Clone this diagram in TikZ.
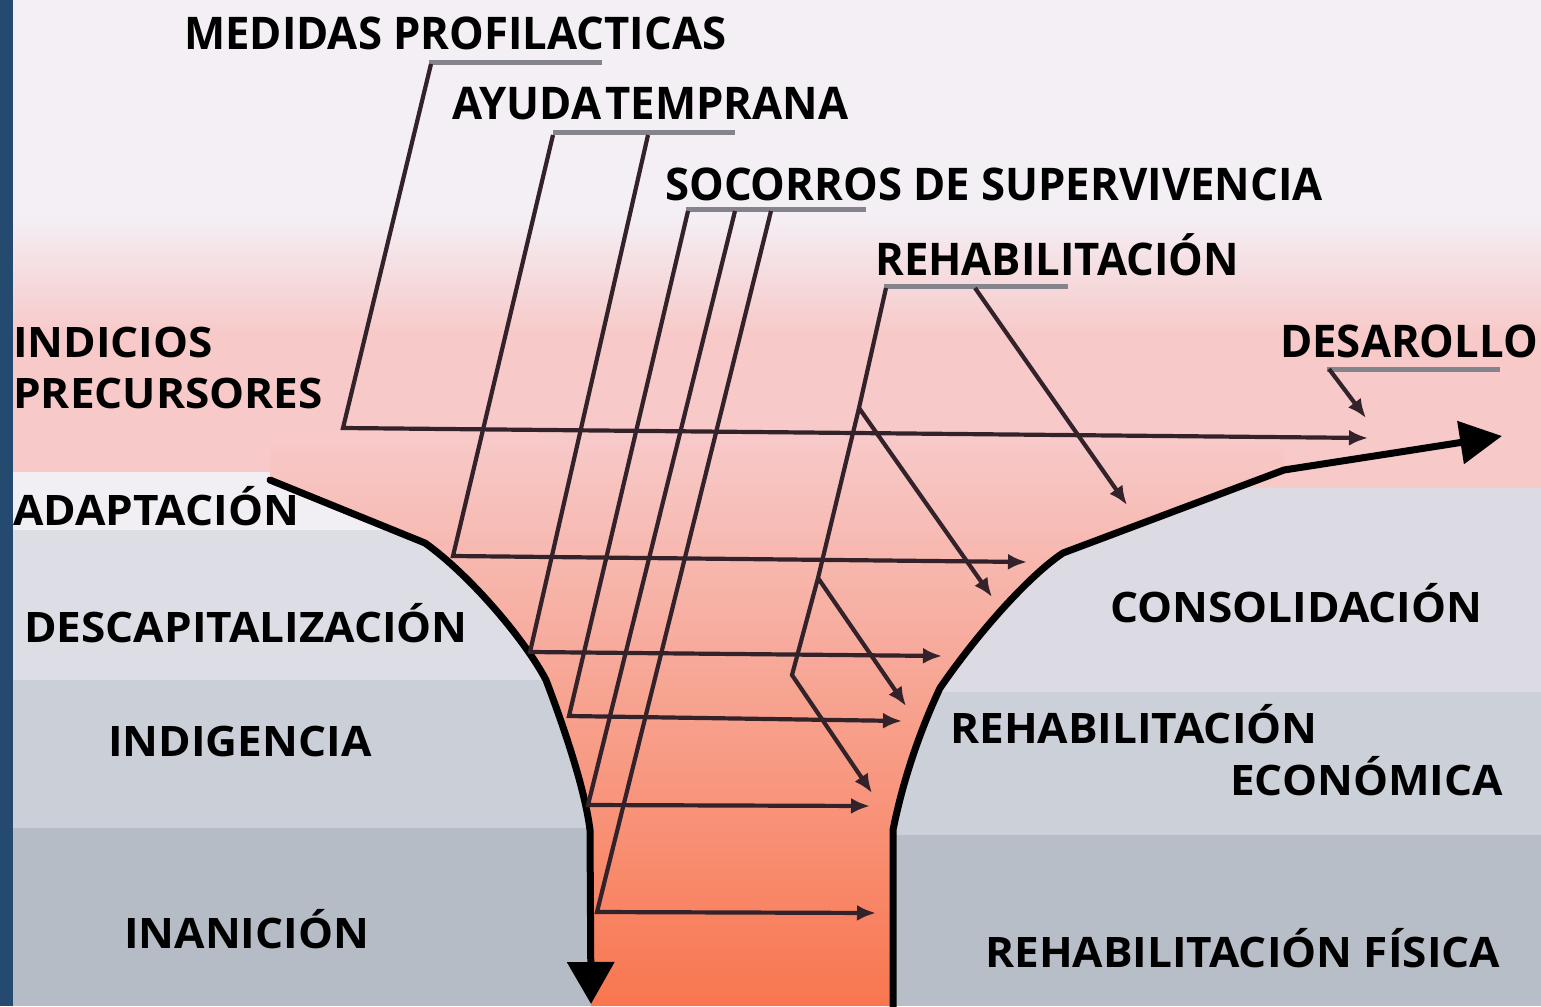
\documentclass[tikz,border=0pt]{standalone}
\usepackage{fontspec}
\newfontfamily\bandfont{Open Sans}[FakeStretch=1.05]
\newfontfamily\topfont{Open Sans}[FakeStretch=0.97]
\usetikzlibrary{arrows.meta}
\definecolor{topbg}{HTML}{F4EFF5}
\definecolor{pinkbg}{HTML}{F7C9C8}
\definecolor{adaptc}{HTML}{F2EFF4}
\definecolor{descc}{HTML}{DCDDE5}
\definecolor{indc}{HTML}{CBD0D8}
\definecolor{inanc}{HTML}{B6BCC6}
\definecolor{consc}{HTML}{DCDBE3}
\definecolor{econc}{HTML}{CCD0D8}
\definecolor{fisc}{HTML}{B8BEC7}
\definecolor{funtop}{HTML}{F7C9C8}
\definecolor{funbot}{HTML}{F8764F}
\definecolor{bluec}{HTML}{254A70}
\definecolor{leadc}{HTML}{33222A}
\definecolor{ulc}{HTML}{85848C}
\tikzset{
  outline/.style={line width=7pt, line join=round, line cap=round, black},
  leader/.style={line width=4.2pt, leadc, line join=miter},
  leadarr/.style={leader, -{Latex[length=19pt,width=16pt]}},
  uline/.style={line width=5pt, ulc},
  toplab/.style={font=\topfont\bfseries\fontsize{45}{45}\selectfont, inner sep=0pt, anchor=base west},
  bandlab/.style={font=\bandfont\bfseries\fontsize{42}{42}\selectfont, inner sep=0pt, anchor=base west}
}
\begin{document}
\begin{tikzpicture}[x=1pt,y=-1pt]
\useasboundingbox (0,0) rectangle (1541,1006);
% background
\fill[topbg] (0,0) rectangle (1541,1006);
\shade[top color=topbg, bottom color=pinkbg] (0,215) rectangle (1541,335);
\fill[pinkbg] (0,334) rectangle (1541,500);
% left bands
\fill[adaptc] (0,472) rectangle (640,530);
\fill[descc] (0,530) rectangle (640,680);
\fill[indc] (0,680) rectangle (640,828);
\fill[inanc] (0,828) rectangle (640,1006);
% right bands
\fill[consc] (850,488) rectangle (1541,692);
\fill[econc] (850,692) rectangle (1541,835);
\fill[fisc] (850,835) rectangle (1541,1006);
% funnel interior
\shade[top color=funtop, bottom color=funbot]
  (270,480) -- (425,543) .. controls (470,575) and (525,640) .. (546,680)
  .. controls (565,730) and (585,790) .. (590,830) -- (591,1006) -- (893,1006) -- (893,830)
  .. controls (905,770) and (925,720) .. (940,688)
  .. controls (980,630) and (1030,575) .. (1063,553) -- (1284,470) -- (1284,440) -- (270,440) -- cycle;
\fill[bluec] (0,0) rectangle (13,1006);

% funnel outline
\coordinate (L0) at (270,480);
\coordinate (L1) at (425,543);
\coordinate (L2) at (546,680);
\coordinate (L3) at (590,830);
\coordinate (Ltip) at (591,1004);
\draw[outline, -{Triangle[length=42pt,width=46pt]}] (L0) -- (L1) .. controls (470,575) and (525,640) .. (L2)
  .. controls (565,730) and (585,790) .. (L3) -- (Ltip);
\coordinate (R0) at (893,1010);
\coordinate (R1) at (893,830);
\coordinate (R2) at (940,688);
\coordinate (R3) at (1063,553);
\coordinate (R4) at (1284,470);
\coordinate (R5) at (1400,452);
\coordinate (Rtip) at (1502,436);
\draw[outline, -{Triangle[length=42pt,width=42pt]}] (R0) -- (R1) .. controls (905,770) and (925,720) .. (R2)
  .. controls (980,630) and (1030,575) .. (R3) -- (R4) -- (R5) -- (Rtip);

% labels
\node[toplab] (med) at (184,50) {MEDIDAS PROFILACTICAS};
\node[toplab] (ayu) at (452,120) {AYUDA\hspace{4pt}TEMPRANA};
\node[toplab] (soc) at (665,200) {SOCORROS DE SUPERVIVENCIA};
\node[toplab] (reh) at (875,275) {REHABILITACIÓN};
\node[toplab] (des) at (1280,357) {DESAROLLO};
\node[bandlab] (ind1) at (13,357) {INDICIOS};
\node[bandlab] (ind2) at (13,408) {PRECURSORES};
\node[bandlab] (ada) at (13,525) {ADAPTACIÓN};
\node[bandlab] (dca) at (24,642) {DESCAPITALIZACIÓN};
\node[bandlab] (idg) at (108,756) {INDIGENCIA};
\node[bandlab] (ina) at (124,948) {INANICIÓN};
\node[bandlab] (con) at (1110,622) {CONSOLIDACIÓN};
\node[bandlab] (re1) at (950,743) {REHABILITACIÓN};
\node[bandlab] (re2) at (1230,795) {ECONÓMICA};
\node[bandlab] (ref) at (985,967) {REHABILITACIÓN FÍSICA};

% underlines
\coordinate (mu0) at (429,63); \coordinate (mu1) at (602,63);
\coordinate (au0) at (553,133); \coordinate (au1) at (735,133);
\coordinate (su0) at (686,209); \coordinate (su1) at (866,209);
\coordinate (ru0) at (884,286); \coordinate (ru1) at (1068,286);
\coordinate (du0) at (1327,369); \coordinate (du1) at (1500,369);
\draw[uline] (mu0) -- (mu1);
\draw[uline] (au0) -- (au1);
\draw[uline] (su0) -- (su1);
\draw[uline] (ru0) -- (ru1);
\draw[uline] (du0) -- (du1);

% leaders
\coordinate (m0) at (431,64);  \coordinate (m1) at (343,428); \coordinate (m2) at (1368,438);
\coordinate (a0) at (553,135); \coordinate (a1) at (453,556); \coordinate (a2) at (1027,562);
\coordinate (b0) at (648,135); \coordinate (b1) at (530,652); \coordinate (b2) at (942,656);
\coordinate (s0) at (688,211); \coordinate (s1) at (569,716); \coordinate (s2) at (902,721);
\coordinate (t0) at (735,211); \coordinate (t1) at (588,805); \coordinate (t2) at (870,806);
\coordinate (u0) at (771,211); \coordinate (u1) at (597,912); \coordinate (u2) at (876,913);
\coordinate (r0) at (886,288); \coordinate (r1) at (859,408); \coordinate (r2) at (818,578);
\coordinate (r3) at (792,675); \coordinate (r4) at (872,793);
\coordinate (rb1) at (992,597); \coordinate (rb2) at (906,706);
\coordinate (q0) at (975,288); \coordinate (q1) at (1127,505);
\coordinate (d0) at (1329,369); \coordinate (d1) at (1366,418);
\draw[leadarr] (m0) -- (m1) -- (m2);
\draw[leadarr] (a0) -- (a1) -- (a2);
\draw[leadarr] (b0) -- (b1) -- (b2);
\draw[leadarr] (s0) -- (s1) -- (s2);
\draw[leadarr] (t0) -- (t1) -- (t2);
\draw[leadarr] (u0) -- (u1) -- (u2);
\draw[leadarr] (r0) -- (r1) -- (r2) -- (r3) -- (r4);
\draw[leadarr] (r1) -- (rb1);
\draw[leadarr] (r2) -- (rb2);
\draw[leadarr] (q0) -- (q1);
\draw[leadarr] (d0) -- (d1);
\end{tikzpicture}
\end{document}
